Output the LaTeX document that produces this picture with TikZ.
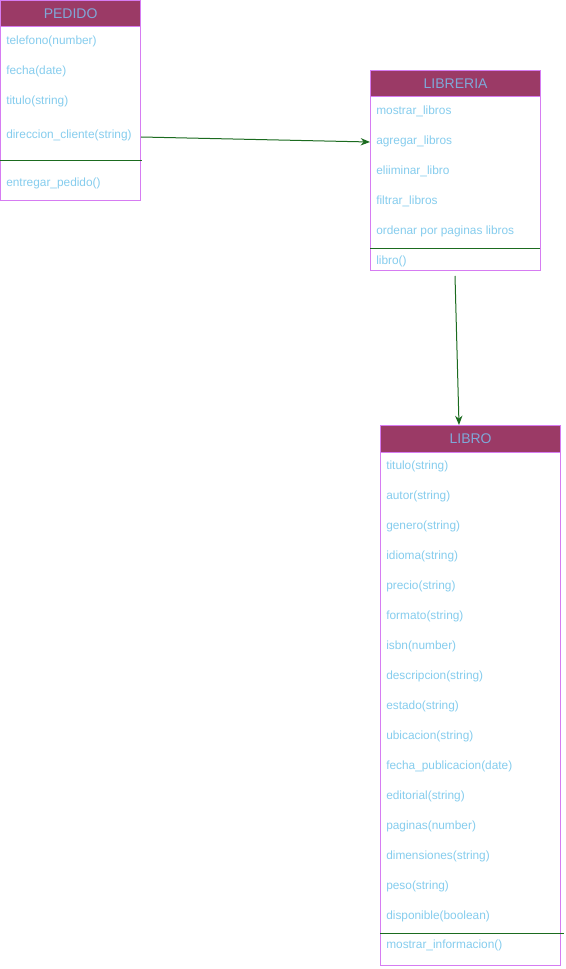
\documentclass[tikz,border=0pt]{standalone}
\usepackage{fontspec}
\setmainfont{Liberation Sans}
\usetikzlibrary{arrows.meta}
\definecolor{hdrfill}{HTML}{9B3A66}
\definecolor{hdrtext}{HTML}{7FA8D8}
\definecolor{itemtext}{HTML}{86CDEE}
\definecolor{boxline}{HTML}{D67CF2}
\definecolor{linkgreen}{HTML}{1B6B1F}
\tikzset{
  classbox/.style={draw=boxline, line width=0.9pt, anchor=north west, inner sep=0pt},
  classhead/.style={draw=boxline, fill=hdrfill, line width=0.9pt, anchor=north west,
    inner sep=0pt, text=hdrtext, font=\fontsize{10.5}{12}\selectfont},
  member/.style={anchor=west, inner sep=0pt, text=itemtext, font=\fontsize{8.9}{10}\selectfont},
  divider/.style={draw=linkgreen, line width=0.7pt},
  link/.style={draw=linkgreen, line width=0.75pt, -{Stealth[length=7pt,width=5.5pt]}}
}
\begin{document}
\begin{tikzpicture}[x=0.75pt,y=-0.75pt]
\useasboundingbox (0,0) rectangle (566,969);
\fill[white] (0,0) rectangle (566,969);

% PEDIDO
\node[classbox, minimum width=140*0.75pt, minimum height=200*0.75pt] (pedido) at (0,0) {};
\node[classhead, minimum width=140*0.75pt, minimum height=26*0.75pt] (pedidoh) at (0,0) {PEDIDO};
\node[member] (p1) at (6,41) {telefono(number)};
\node[member] (p2) at (6,71) {fecha(date)};
\node[member] (p3) at (6,101) {titulo(string)};
\node[member] (p4) at (6,135) {direccion\_cliente(string)};
\coordinate (pd1) at (0,160);
\coordinate (pd2) at (142,160);
\draw[divider] (pd1) -- (pd2);
\node[member] (p5) at (6,183) {entregar\_pedido()};

% LIBRERIA
\node[classbox, minimum width=170*0.75pt, minimum height=200*0.75pt] (libreria) at (370,70) {};
\node[classhead, minimum width=170*0.75pt, minimum height=26*0.75pt] (libreriah) at (370,70) {LIBRERIA};
\node[member] (l1) at (376,111) {mostrar\_libros};
\node[member] (l2) at (376,141) {agregar\_libros};
\node[member] (l3) at (376,171) {eliiminar\_libro};
\node[member] (l4) at (376,201) {filtrar\_libros};
\node[member] (l5) at (376,231) {ordenar por paginas libros};
\coordinate (ld1) at (370,248);
\coordinate (ld2) at (540,248);
\draw[divider] (ld1) -- (ld2);
\node[member] (l6) at (376,261) {libro()};

% LIBRO
\node[classbox, minimum width=180*0.75pt, minimum height=540*0.75pt] (libro) at (380,425) {};
\node[classhead, minimum width=180*0.75pt, minimum height=27*0.75pt] (libroh) at (380,425) {LIBRO};
\foreach \t [count=\i from 0] in {titulo(string),autor(string),genero(string),idioma(string),
  precio(string),formato(string),isbn(number),descripcion(string),estado(string),
  ubicacion(string),fecha\_publicacion(date),editorial(string),paginas(number),
  dimensiones(string),peso(string),disponible(boolean)}
  \node[member] (b\i) at (386,466+30*\i) {\t};
\coordinate (bd1) at (380,933);
\coordinate (bd2) at (564,933);
\draw[divider] (bd1) -- (bd2);
\node[member] (b16) at (386,945) {mostrar\_informacion()};

% associations
\coordinate (a1) at (141,137);
\coordinate (a2) at (370,142);
\draw[link] (a1) -- (a2);
\coordinate (c1) at (455,276);
\coordinate (c2) at (459,425);
\draw[link] (c1) -- (c2);
\end{tikzpicture}
\end{document}
